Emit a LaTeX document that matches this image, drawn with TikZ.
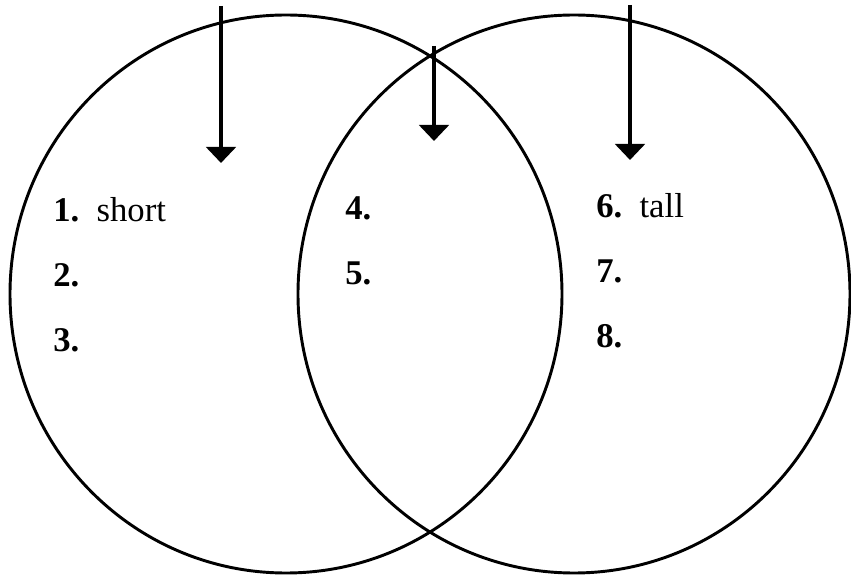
\documentclass[tikz,border=0pt]{standalone}
\usepackage{fontspec}
\setmainfont{Liberation Serif}
\usetikzlibrary{arrows.meta,positioning}
\tikzset{
  ring/.style={draw=black,line width=2.2pt},
  pointer/.style={-{Triangle[width=22pt,length=12pt]},draw=black,line width=3.2pt},
  entry/.style={anchor=base west,inner sep=0pt,font=\fontsize{26}{30}\selectfont}
}
\begin{document}
\begin{tikzpicture}[x=0.75pt,y=-0.75pt]
  \useasboundingbox (0,0) rectangle (851,577);
  % the two sets
  \draw[ring] (286,294) ellipse [x radius=276, y radius=279];
  \draw[ring] (574,294) ellipse [x radius=276, y radius=279];

  % pointer ends
  \coordinate (lefttop) at (221,6);
  \coordinate (lefttip) at (221,163);
  \coordinate (midtop) at (434,46);
  \coordinate (midtip) at (434,141);
  \coordinate (righttop) at (630,5);
  \coordinate (righttip) at (630,160);
  \draw[pointer] (lefttop)--(lefttip);
  \draw[pointer] (midtop)--(midtip);
  \draw[pointer] (righttop)--(righttip);

  % left set
  \node[entry] (one) at (53,222) {\textbf{1.}~~short};
  \node[entry] (two) at (53,287) {\textbf{2.}};
  \node[entry] (three) at (53,352) {\textbf{3.}};
  % overlap
  \node[entry] (four) at (345,220) {\textbf{4.}};
  \node[entry] (five) at (345,285) {\textbf{5.}};
  % right set
  \node[entry] (six) at (596,218) {\textbf{6.}~~tall};
  \node[entry] (seven) at (596,283) {\textbf{7.}};
  \node[entry] (eight) at (596,348) {\textbf{8.}};
\end{tikzpicture}
\end{document}
